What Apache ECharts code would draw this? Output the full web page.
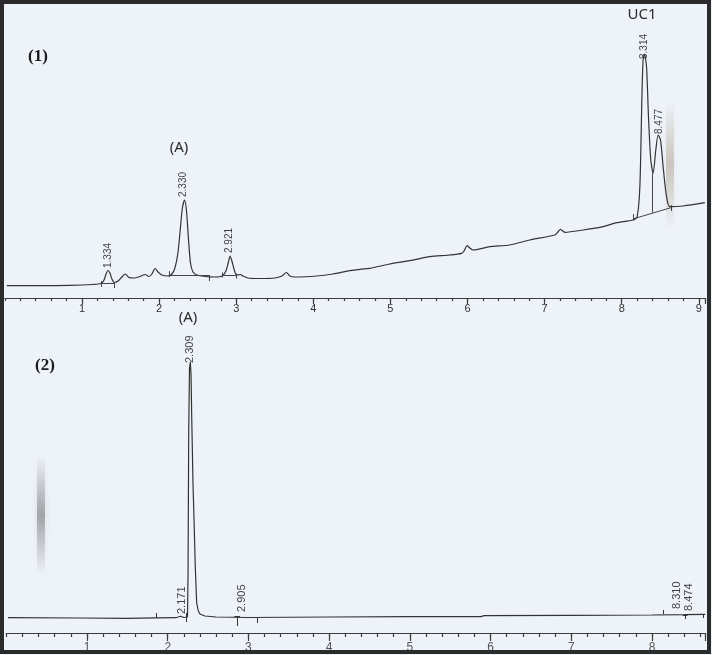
<!DOCTYPE html>
<html>
<head>
<meta charset="utf-8">
<script src="https://cdn.jsdelivr.net/npm/echarts@6/dist/echarts.min.js"></script>
<style>
html,body{margin:0;padding:0;background:#eef3f9;}
#chart{width:712px;height:655px;}
</style>
</head>
<body>
<div id="chart"></div>
<script>
// ---- Chromatogram (1): retention time (min) and detector signal ----
const topTime = [0.025,0.455,0.844,1.142,1.246,1.286,1.312,1.337,1.362,1.388,1.421,1.467,1.517,1.563,1.609,1.672,1.750,1.817,1.868,1.907,1.946,1.985,2.037,2.114,2.166,2.205,2.244,2.276,2.302,2.330,2.354,2.380,2.407,2.439,2.491,2.595,2.724,2.815,2.867,2.899,2.921,2.944,2.975,3.003,3.052,3.090,3.151,3.307,3.502,3.592,3.651,3.697,3.761,4.047,4.254,4.474,4.604,4.733,4.993,5.252,5.512,5.771,5.923,5.955,5.995,6.030,6.073,6.290,6.549,6.808,7.132,7.172,7.204,7.263,7.500,7.759,7.932,8.148,8.200,8.235,8.261,8.277,8.295,8.322,8.347,8.377,8.407,8.442,8.472,8.503,8.537,8.581,8.624,8.796,9.078];
const topSignal = [12.3,12.3,12.6,13.5,14.5,18,24,27.5,25,19,15.5,17,21,24,20.5,20,21.5,23.5,21.5,24,29.5,26,23,22,24,30,45,70,90,98,88,60,35,26,23,21.5,21,22,27,36,42,37,28,23,23.5,22,20,19.5,20,22,25.5,22,21,22,24,27.3,28.7,29.7,34,37.3,41.3,43,44.7,47,52.3,50,48,51.3,53,58,63,66,68.7,65.7,68,71.3,75.3,78,81.3,111,198,238,244,231,181,138,124.7,148,163,158,131.3,101.3,91.3,92,95.3];

// peak labels of (1)
const topPeakLabels = ['1.334','2.330','2.921','8.314','8.477'];
const topPeakLabelTime = [1.337,2.309,2.905,8.287,8.481];
const topPeakLabelHeight = [30,101,45,239,164];

// integration baselines of (1): [t1, y1, t2, y2]
const topBaselines = [[1.255,14.7,1.418,14.7],[2.132,22.3,2.650,22.3],[2.824,22.7,3.000,22.7],[8.144,79,8.646,90.5],[8.400,124.7,8.400,85.1]];
// integration tick marks of (1): [t, yLow, yHigh]
const topMarks = [[1.255,11,17],[1.418,10,16],[2.132,21,27],[2.650,17,23],[2.824,20.5,25.5],[3.000,19.5,24.5],[8.144,78,84],[8.646,87,93]];

// ---- Chromatogram (2) ----
const botTime = [0.02,0.90,0.92,1.50,1.85,2.10,2.16,2.20,2.245,2.252,2.260,2.270,2.280,2.289,2.298,2.313,2.326,2.342,2.359,2.379,2.400,2.460,2.600,3.000,4.000,5.000,5.880,5.920,7.000,8.000,8.400,8.660];
const botSignal = [15.3,15.0,14.5,14.7,15.2,15.3,16.8,15.5,16,60,200,265,271,258,213,150,113,65,30,22,19,17,16,15.5,16,16.3,16.4,17.4,17.6,18,18.3,18.7];

const botPeakLabels = ['2.171','2.309','2.905','8.310','8.474'];
const botPeakLabelTime = [2.177,2.276,2.920,8.310,8.460];
const botPeakLabelHeight = [19,270,21,24,22];

const botMarks = [[1.855,15,20],[2.235,11,20],[2.860,7,17],[3.115,10,15],[8.140,19,23],[8.410,14,18],[8.636,15,19]];
const botBars = [[2.825,17,2.895,17],[8.380,18,8.440,18]];

// x-axis ranges and tick steps
const topXMax = 9.08;
const botXMax = 8.657;
const majorStep = 1;
const minorStep = 0.2;

const lineColor = '#333333';
const axisColor = '#3c3c3c';

function pairs(xs, ys){ return xs.map((x,i)=>[x, ys[i]]); }
function segs(list){ return list.map(s=>[{coord:[s[0],s[1]]},{coord:[s[2],s[3]]}]); }
function ticks(list){ return list.map(m=>[{coord:[m[0],m[1]]},{coord:[m[0],m[2]]}]); }

const chart = echarts.init(document.getElementById('chart'), null, {renderer:'canvas'});

function xAxisCfg(idx, max, tickLen, margin, fontSize, color){
  return {
    type:'value', gridIndex:idx, position:'bottom', min:0, max:max, interval:majorStep,
    axisLine:{show:true, onZero:false, lineStyle:{color:axisColor, width:1.2}},
    axisTick:{show:true, inside:false, length:tickLen, lineStyle:{color:axisColor, width:1.2}},
    splitLine:{show:false},
    axisLabel:{show:true, margin:margin, fontSize:fontSize, color:color, fontFamily:'"Liberation Sans", Arial, sans-serif',
      showMinLabel:false,
      formatter:(v)=> (Math.abs(v-Math.round(v))<1e-6 && v>0) ? String(Math.round(v)) : ''}
  };
}
function minorAxisCfg(idx, max, tickLen){
  return {
    type:'value', gridIndex:idx, position:'bottom', offset:0, min:0, max:max, interval:minorStep,
    axisLine:{show:false, onZero:false},
    axisTick:{show:true, inside:false, length:tickLen, lineStyle:{color:axisColor, width:1.2}},
    splitLine:{show:false}, axisLabel:{show:false}
  };
}

const peakLabelStyle = (size)=>({
  show:true, position:[0,0], rotate:90, align:'left', verticalAlign:'middle',
  fontSize:size, color:'#111', fontFamily:'"Liberation Sans", Arial, sans-serif',
  formatter:(p)=>p.data[2]
});

const option = {
  backgroundColor:'#eef3f9',
  animation:false,
  grid:[
    {left:4.9, right:7, top:18, bottom:357},
    {left:6.3, right:7, top:333, bottom:22}
  ],
  xAxis:[
    xAxisCfg(0, topXMax, 6, 5, 11, '#333'),
    xAxisCfg(1, botXMax, 8, 9, 12, '#555'),
    minorAxisCfg(0, topXMax, 3),
    minorAxisCfg(1, botXMax, 4)
  ],
  yAxis:[
    {type:'value', gridIndex:0, min:0, max:280, show:false},
    {type:'value', gridIndex:1, min:0, max:300, show:false}
  ],
  series:[
    {type:'line', xAxisIndex:0, yAxisIndex:0, data:pairs(topTime, topSignal), showSymbol:false, smooth:0.25,
     lineStyle:{color:lineColor, width:1.2}, silent:true,
     markLine:{silent:true, symbol:['none','none'], label:{show:false}, lineStyle:{color:'#444', width:1, type:'solid'},
       data: segs(topBaselines).concat(ticks(topMarks))}},
    {type:'scatter', xAxisIndex:0, yAxisIndex:0, symbolSize:0,
     data: topPeakLabelTime.map((t,i)=>[t, topPeakLabelHeight[i], topPeakLabels[i]]),
     label: peakLabelStyle(10), silent:true},
    {type:'line', xAxisIndex:1, yAxisIndex:1, data:pairs(botTime, botSignal), showSymbol:false, smooth:false,
     lineStyle:{color:lineColor, width:1.2}, silent:true,
     markLine:{silent:true, symbol:['none','none'], label:{show:false}, lineStyle:{color:'#333', width:1, type:'solid'},
       data: ticks(botMarks).concat(segs(botBars))}},
    {type:'scatter', xAxisIndex:1, yAxisIndex:1, symbolSize:0,
     data: botPeakLabelTime.map((t,i)=>[t, botPeakLabelHeight[i], botPeakLabels[i]]),
     label: peakLabelStyle(11), silent:true}
  ],
  graphic:[
    // scan smudges of the original print
    {type:'rect', z:1, silent:true, shape:{x:37, y:455, width:8, height:120},
     style:{fill:new echarts.graphic.LinearGradient(0,0,0,1,[{offset:0,color:'rgba(110,110,110,0)'},{offset:0.5,color:'rgba(90,90,90,0.45)'},{offset:1,color:'rgba(110,110,110,0)'}]), shadowBlur:6, shadowColor:'rgba(90,90,90,0.4)'}},
    {type:'rect', z:1, silent:true, shape:{x:666, y:100, width:8, height:130},
     style:{fill:new echarts.graphic.LinearGradient(0,0,0,1,[{offset:0,color:'rgba(150,130,100,0)'},{offset:0.5,color:'rgba(150,130,100,0.35)'},{offset:1,color:'rgba(150,130,100,0)'}]), shadowBlur:6, shadowColor:'rgba(150,130,100,0.3)'}},
    {type:'text', x:38, y:57, z:50, style:{text:'(1)', font:'bold 17px "Liberation Serif", serif', fill:'#1a1a1a', align:'center', verticalAlign:'middle'}},
    {type:'text', x:179, y:148, z:50, style:{text:'(A)', font:'15px "Noto Sans", sans-serif', fill:'#2a2a2a', align:'center', verticalAlign:'middle'}},
    {type:'text', x:642, y:15, z:50, style:{text:'UC1', font:'15px "Noto Sans", sans-serif', fill:'#2a2a2a', align:'center', verticalAlign:'middle'}},
    {type:'text', x:45, y:366, z:50, style:{text:'(2)', font:'bold 17px "Liberation Serif", serif', fill:'#1a1a1a', align:'center', verticalAlign:'middle'}},
    {type:'text', x:188, y:318, z:50, style:{text:'(A)', font:'15px "Noto Sans", sans-serif', fill:'#2a2a2a', align:'center', verticalAlign:'middle'}},
    {type:'rect', z:100, silent:true, shape:{x:2, y:2, width:707, height:650}, style:{fill:'none', stroke:'#2b2b2b', lineWidth:4}}
  ]
};
chart.setOption(option);
</script>
</body>
</html>
